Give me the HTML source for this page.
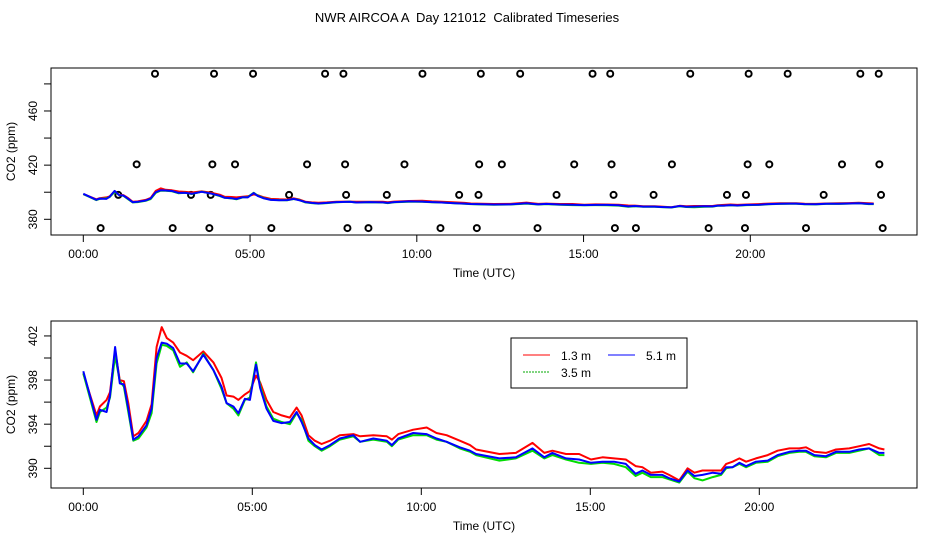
<!DOCTYPE html>
<html><head><meta charset="utf-8"><style>
html,body{margin:0;padding:0;background:#fff;}
svg{display:block;font-family:"Liberation Sans",Arial,sans-serif;}
</style></head><body>
<svg id="chart" width="936" height="540" viewBox="0 0 936 540">
<text x="467" y="22" font-size="13" text-anchor="middle" xml:space="preserve">NWR AIRCOA A  Day 121012  Calibrated Timeseries</text>
<g id="top"></g>
<g id="bot"></g>
</svg>
<script>
const hours = [0,0.39,0.49,0.69,0.79,0.94,1.08,1.2,1.33,1.48,1.63,1.87,2.02,2.17,2.32,2.47,2.66,2.86,3.06,3.25,3.55,3.85,4.09,4.24,4.44,4.59,4.78,4.93,5.11,5.23,5.42,5.62,5.87,6.11,6.31,6.46,6.66,6.85,7.05,7.3,7.59,7.99,8.19,8.58,8.98,9.13,9.32,9.76,10.16,10.45,10.75,11.14,11.44,11.62,12.31,12.8,13.29,13.64,13.88,14.28,14.67,15.02,15.36,15.7,16.05,16.34,16.54,16.79,17.13,17.33,17.63,17.88,18.08,18.32,18.62,18.87,19.02,19.21,19.41,19.61,19.9,20.25,20.54,20.89,21.18,21.38,21.63,21.97,22.27,22.66,22.96,23.25,23.55,23.7];
const blue = [398.8,394.4,395.3,395.1,396.6,401.0,397.7,397.6,395.4,392.6,392.9,393.9,395.4,400.0,401.4,401.3,400.9,399.5,399.5,398.8,400.3,398.9,397.4,395.9,395.6,395.0,396.3,396.2,399.4,397.3,395.4,394.3,394.1,394.2,395.1,394.2,392.7,392.1,391.7,392.1,392.7,393.0,392.4,392.7,392.5,392.1,392.7,393.2,393.1,392.7,392.4,391.9,391.6,391.3,390.9,391.0,391.8,391.0,391.4,390.9,390.8,390.5,390.6,390.6,390.4,389.5,389.8,389.4,389.4,389.1,388.8,389.8,389.3,389.4,389.6,389.5,390.1,390.1,390.5,390.2,390.6,390.7,391.2,391.5,391.6,391.6,391.2,391.1,391.5,391.5,391.7,391.8,391.4,391.4];
const red = [398.6,394.8,395.6,396.2,396.9,400.7,398.0,397.9,395.9,392.9,393.2,394.3,395.8,401.0,402.8,401.8,401.4,400.5,400.2,399.8,400.6,399.6,398.2,396.6,396.5,396.2,396.7,397.0,398.4,397.8,396.2,395.1,394.8,394.6,395.5,394.8,393.0,392.5,392.2,392.5,393.0,393.1,392.9,393.0,392.9,392.6,393.1,393.5,393.7,393.2,393.0,392.5,392.1,391.7,391.3,391.4,392.3,391.4,391.6,391.3,391.3,390.8,391.0,390.9,390.8,390.2,390.1,389.6,389.7,389.4,388.9,390.0,389.6,389.8,389.8,389.8,390.4,390.6,390.9,390.6,390.9,391.2,391.6,391.8,391.8,391.9,391.5,391.4,391.7,391.8,392.0,392.2,391.8,391.7];
const green = [398.6,394.2,395.1,395.5,396.4,400.2,397.9,397.4,395.1,392.5,392.7,393.7,395.0,399.5,401.2,401.1,400.7,399.2,399.6,398.7,400.4,398.9,397.2,395.9,395.4,394.8,396.2,396.4,399.6,397.5,395.6,394.5,394.2,394.0,395.0,394.4,392.5,392.0,391.6,392.0,392.6,392.9,392.4,392.6,392.4,392.0,392.6,393.0,393.0,392.6,392.4,391.8,391.5,391.2,390.7,390.9,391.6,390.9,391.2,390.8,390.5,390.4,390.5,390.4,390.1,389.3,389.6,389.2,389.2,389.0,388.7,389.7,389.1,388.9,389.2,389.4,390.0,390.1,390.4,390.1,390.5,390.6,391.1,391.4,391.5,391.5,391.1,391.0,391.4,391.4,391.6,391.8,391.2,391.2];
const refHours = [2.15,3.92,5.09,7.25,7.8,10.17,11.92,13.1,15.27,15.8,18.2,19.95,21.12,23.3,23.85,
 1.6,3.87,4.55,6.71,7.85,9.63,11.87,12.55,14.72,15.84,17.65,19.92,20.57,22.75,23.87,
 1.05,3.23,3.82,6.17,7.88,9.1,11.27,11.85,14.19,15.9,17.1,19.3,19.87,22.2,23.92,
 0.52,2.68,3.78,5.64,7.92,8.55,10.71,11.8,13.62,15.94,16.57,18.75,19.84,21.67,23.97];
const refValues = [487.5,487.5,487.5,487.5,487.5,487.5,487.5,487.5,487.5,487.5,487.5,487.5,487.5,487.5,487.5,
 420.6,420.6,420.6,420.6,420.6,420.6,420.6,420.6,420.6,420.6,420.6,420.6,420.6,420.6,420.6,
 398,398,398,398,398,398,398,398,398,398,398,398,398,398,398,
 373.5,373.5,373.5,373.5,373.5,373.5,373.5,373.5,373.5,373.5,373.5,373.5,373.5,373.5,373.5];
const xTickHours = [0,5,10,15,20];
const xTickLabels = ["00:00","05:00","10:00","15:00","20:00"];
const topYTicks = [380,400,420,440,460,480];
const topYLabels = [380,420,460];
const botYTicks = [390,392,394,396,398,400,402];
const botYLabels = [390,394,398,402];

const NS="http://www.w3.org/2000/svg";
function mk(tag,attrs,parent){const e=document.createElementNS(NS,tag);for(const k in attrs)e.setAttribute(k,attrs[k]);parent.appendChild(e);return e;}

function panel(g,box,xs,ys,yTicks,yLabels,withRefs,withLegend){
  const X=h=>box.x0+h*xs, Y=v=>box.yRef-(v-box.vRef)*ys;
  const rect=mk('rect',{x:box.l,y:box.t,width:box.r-box.l,height:box.b-box.t,fill:'none',stroke:'#000','stroke-width':1},g);
  
  
  xTickHours.forEach((h,i)=>{
    const t=mk('line',{x1:X(h),x2:X(h),y1:box.b,y2:box.b+7,stroke:'#000'},g);
    
    
    const l=mk('text',{x:X(h),y:box.b+23,'font-size':12,'text-anchor':'middle'},g);
    l.textContent=xTickLabels[i];
    
    
  });
  yTicks.forEach(v=>{
    const t=mk('line',{x1:box.l-7,x2:box.l,y1:Y(v),y2:Y(v),stroke:'#000'},g);
    
    
  });
  yLabels.forEach(v=>{
    const l=mk('text',{x:0,y:0,'font-size':12,'text-anchor':'middle',transform:`translate(${box.l-14},${Y(v)}) rotate(-90)`},g);
    l.textContent=v;
    
    
  });
  const xt=mk('text',{x:484,y:box.b+42,'font-size':12,'text-anchor':'middle'},g);
  xt.textContent='Time (UTC)';
  
  
  const cy=(box.t+box.b)/2;
  const yt=mk('text',{x:0,y:0,'font-size':12,'text-anchor':'middle',transform:`translate(15,${cy}) rotate(-90)`},g);
  yt.textContent='CO2 (ppm)';
  
  
  if(withRefs){
    refHours.forEach((h,i)=>{
      const c=mk('circle',{cx:X(h),cy:Y(refValues[i]),r:3,fill:'none',stroke:'#000','stroke-width':2},g);
      
      
    });
  }
  [[red,'#ff0000','series-1-3m'],[green,'#00dd00','series-3-5m'],[blue,'#0000ff','series-5-1m']].forEach(([arr,col,nm])=>{
    const pts=hours.map((h,i)=>X(h).toFixed(1)+','+Y(arr[i]).toFixed(1)).join(' ');
    const p=mk('polyline',{points:pts,fill:'none',stroke:col,'stroke-width':2,'stroke-linejoin':'round'},g);
    
    
  });
  if(withLegend){
    const lg=mk('g',{},g);
    
    
    mk('rect',{x:511,y:338,width:176,height:50,fill:'#fff',stroke:'#000'},lg);
    const items=[[523,355,'#ff0000','1.3 m',''],[608,355,'#0000ff','5.1 m',''],[523,372,'#00aa00','3.5 m','2,1']];
    items.forEach(([x,y,c,t,d])=>{
      const e=mk('g',{},lg);
      
      
      mk('line',{x1:x,x2:x+27,y1:y,y2:y,stroke:c,'stroke-width':1,'stroke-dasharray':d||'none'},e);
      const tx=mk('text',{x:x+38,y:y+5,'font-size':12},e);
      tx.textContent=t;
    });
  }
}
panel(document.getElementById('top'),{l:51,r:917,t:68,b:235,x0:83.3,yRef:219.3,vRef:380},33.35,1.354,topYTicks,topYLabels,true,false);
panel(document.getElementById('bot'),{l:51,r:917,t:321,b:488,x0:83.3,yRef:468.3,vRef:390},33.8,11.03,botYTicks,botYLabels,false,true);
</script>
</body></html>
